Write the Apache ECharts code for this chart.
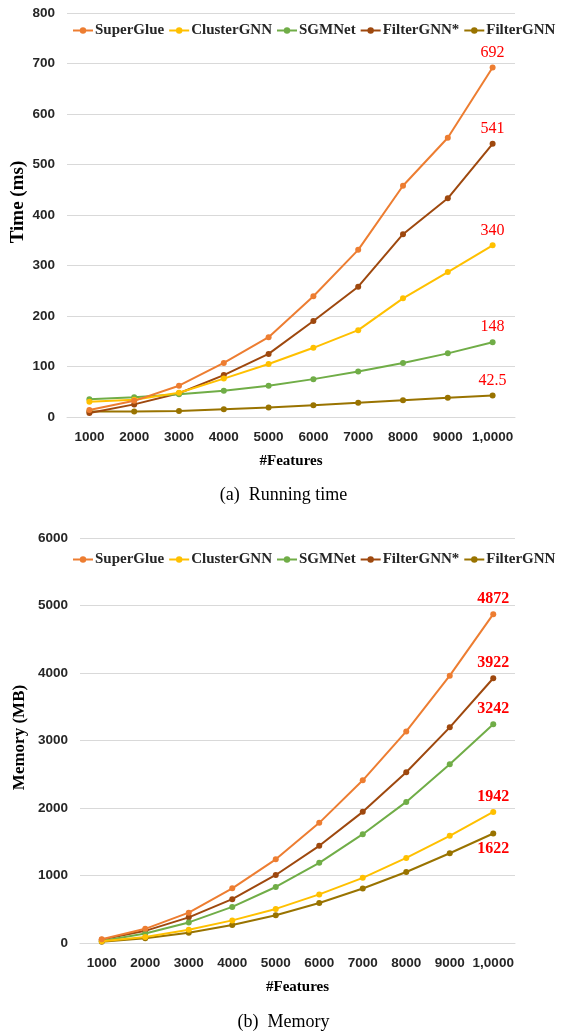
<!DOCTYPE html>
<html>
<head>
<meta charset="utf-8">
<script src="https://cdn.jsdelivr.net/npm/echarts@6/dist/echarts.min.js"></script>
<style>
  html, body { margin: 0; padding: 0; background: #fff; }
  #chart { width: 567px; height: 1034px; }
</style>
</head>
<body>
<div id="chart"></div>
<script>
// Feature counts on the x axis
const features = ['1000', '2000', '3000', '4000', '5000', '6000', '7000', '8000', '9000', '1,0000'];
const methods = ['SuperGlue', 'ClusterGNN', 'SGMNet', 'FilterGNN*', 'FilterGNN'];
const colors = ['#ED7D31', '#FFC000', '#70AD47', '#9E480E', '#997300'];

// Running time (ms)
const timeSuperGlue  = [14, 32, 62, 107, 158, 239, 331, 458, 553, 692];
const timeClusterGNN = [30, 34, 48, 76, 105, 137, 172, 235, 287, 340];
const timeSGMNet     = [35, 39, 45, 52, 62, 75, 90, 107, 126, 148];
const timeFilterStar = [8, 25, 47, 83, 125, 190, 258, 362, 433, 541];
const timeFilterGNN  = [11, 11, 12, 15.5, 19, 23.5, 28, 33, 38, 42.5];

// Memory (MB)
const memSuperGlue  = [55, 210, 450, 810, 1240, 1780, 2410, 3135, 3960, 4872];
const memClusterGNN = [25, 90, 195, 335, 505, 720, 965, 1260, 1588, 1942];
const memSGMNet     = [30, 140, 305, 535, 830, 1188, 1612, 2090, 2648, 3242];
const memFilterStar = [50, 180, 380, 650, 1008, 1440, 1943, 2530, 3195, 3922];
const memFilterGNN  = [20, 72, 152, 268, 412, 592, 808, 1052, 1330, 1622];

const timeSeries = [timeSuperGlue, timeClusterGNN, timeSGMNet, timeFilterStar, timeFilterGNN];
const memSeries  = [memSuperGlue, memClusterGNN, memSGMNet, memFilterStar, memFilterGNN];

const chart = echarts.init(document.getElementById('chart'));

const tickFont = { fontFamily: 'Liberation Sans', fontWeight: 'bold', fontSize: 13.5, color: '#262626' };
const nameFont = { fontFamily: 'Liberation Serif', fontWeight: 'bold', fontSize: 15, color: '#000' };

function endLabel(values, bold, pos) {
  const last = values.length - 1;
  return values.map((v, i) => i === last ? {
    value: v,
    label: {
      show: true, position: pos, distance: 4,
      color: '#FF0000', fontFamily: 'Liberation Serif',
      fontWeight: bold ? 'bold' : 'normal', fontSize: 16
    }
  } : v);
}

function makeSeries(list, gridIdx, bold, positions) {
  return list.map((vals, k) => ({
    name: methods[k],
    type: 'line',
    xAxisIndex: gridIdx,
    yAxisIndex: gridIdx,
    data: endLabel(vals, bold, positions[k]),
    color: colors[k],
    lineStyle: { width: 2 },
    symbol: 'circle',
    symbolSize: 6,
    z: 10 - k
  }));
}

function legend(top, left) {
  return {
    top: top, left: left, width: 520, orient: 'horizontal',
    itemWidth: 20, itemHeight: 8, itemGap: 4,
    data: methods,
    textStyle: { fontFamily: 'Liberation Serif', fontWeight: 'bold', fontSize: 15, color: '#262626', padding: [0, 0, 0, -3] }
  };
}

function xAxis(gridIdx) {
  return {
    type: 'category', gridIndex: gridIdx, data: features,
    axisLine: { lineStyle: { color: '#D9D9D9' } },
    axisTick: { show: false },
    axisLabel: Object.assign({ margin: 13, interval: 0 }, tickFont),
    name: '#Features', nameLocation: 'middle', nameGap: 37,
    nameTextStyle: nameFont
  };
}

function yAxis(gridIdx, max, interval, name, gap, size, shift) {
  return {
    type: 'value', gridIndex: gridIdx, min: 0, max: max, interval: interval,
    axisLine: { show: false }, axisTick: { show: false },
    splitLine: { lineStyle: { color: '#D9D9D9' } },
    axisLabel: Object.assign({ margin: 12, formatter: v => String(v) }, tickFont),
    name: name, nameLocation: 'middle', nameGap: gap, nameRotate: 90,
    nameMoveOverlap: false,
    nameTextStyle: Object.assign({}, nameFont, { fontSize: size, padding: [0, 0, 0, shift] })
  };
}

chart.setOption({
  animation: false,
  backgroundColor: '#fff',
  grid: [
    { left: 67, right: 52, top: 13, height: 404, outerBoundsMode: 'none' },
    { left: 80, right: 52, top: 538, height: 405, outerBoundsMode: 'none' }
  ],
  legend: [legend(18, 67), legend(547, 67)],
  xAxis: [xAxis(0), xAxis(1)],
  yAxis: [
    yAxis(0, 800, 100, 'Time (ms)', 39, 19, 26),
    yAxis(1, 6000, 1000, 'Memory (MB)', 52, 17, 6)
  ],
  title: [
    { text: '(a)  Running time', left: 'center', top: 481,
      textStyle: { fontFamily: 'Liberation Serif', fontWeight: 'normal', fontSize: 18, color: '#000' } },
    { text: '(b)  Memory', left: 'center', top: 1008,
      textStyle: { fontFamily: 'Liberation Serif', fontWeight: 'normal', fontSize: 18, color: '#000' } }
  ],
  series: [
    ...makeSeries(timeSeries, 0, false, ['top', 'top', 'top', 'top', 'top']),
    ...makeSeries(memSeries, 1, true, ['top', 'top', 'top', 'top', 'bottom'])
  ]
});
</script>
</body>
</html>
